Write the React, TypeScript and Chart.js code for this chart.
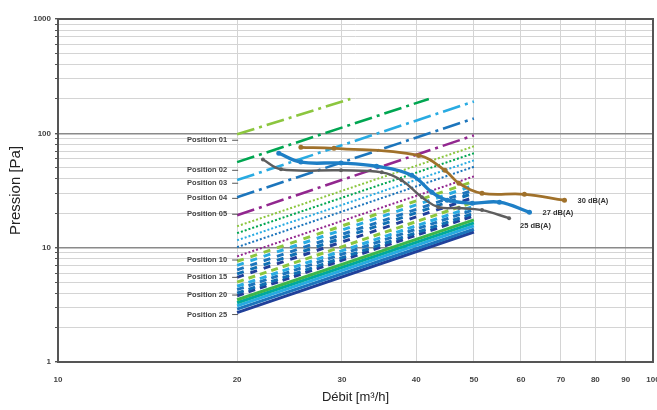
import React, { useEffect, useRef } from "react";
import { Chart, registerables } from "chart.js";

Chart.register(...registerables);

// ---- Data ----
const xTickValues = [10, 20, 30, 40, 50, 60, 70, 80, 90, 100];
const yGridValues = [1, 2, 3, 4, 5, 6, 7, 8, 9, 10, 20, 30, 40, 50, 60, 70, 80, 90, 100, 200, 300, 400, 500, 600, 700, 800, 900, 1000];
const yTickLabels = [1, 10, 100, 1000];

const positionNames = ["01", "02", "03", "04", "05", "06", "07", "08", "09", "10", "11", "12", "13", "14", "15", "16", "17", "18", "19", "20", "21", "22", "23", "24", "25"];
const positionStartFlow = [20, 20, 20, 20, 20, 20, 20, 20, 20, 20, 20, 20, 20, 20, 20, 20, 20, 20, 20, 20, 20, 20, 20, 20, 20];
const positionStartPa = [98, 56, 39, 27.6, 19.2, 15.4, 13.4, 11.6, 10.1, 8.4, 7.6, 7.0, 6.4, 5.9, 5.5, 5.0, 4.6, 4.3, 4.0, 3.8, 3.5, 3.3, 3.1, 2.9, 2.7];
const positionEndFlow = [31, 42, 50, 50, 50, 50, 50, 50, 50, 50, 50, 50, 50, 50, 50, 50, 50, 50, 50, 50, 50, 50, 50, 50, 50];
const positionEndPa = [200, 200, 190, 135, 96, 77, 67, 58, 51, 42, 38, 35, 32, 30, 27.5, 25, 23, 21.5, 20, 19, 17.5, 16.5, 15.5, 14.5, 13.7];

const labeledPositions = ["01", "02", "03", "04", "05", "10", "15", "20", "25"];
const labeledPositionPa = [87, 47.5, 36.6, 27, 19.6, 7.8, 5.5, 3.85, 2.6];

const db30Flow = [25.6, 29.1, 40.4, 44.7, 47.2, 51.6, 60.8, 71];
const db30Pa = [75.5, 74, 64, 47.5, 36.6, 29.9, 29.3, 26];
const db27Flow = [23.5, 25.6, 29.9, 34.3, 39.3, 42.5, 45.1, 49.7, 55.2, 62];
const db27Pa = [67, 56, 55, 51.5, 43, 30.5, 26, 24.5, 25, 20.4];
const db25Flow = [22.1, 23.7, 29.9, 35, 37.8, 40.9, 43.6, 47.2, 51.6, 57.3];
const db25Pa = [59, 48.5, 47.5, 45.6, 38.9, 27.6, 22.6, 22.2, 21.3, 18.1];
const dbLabels = ["30 dB(A)", "27 dB(A)", "25 dB(A)"];

// ---- Styles ----
const cycleColors = ["#8cc63f", "#00a651", "#29abe2", "#1c75bc", "#92278f"];
const blockColors = ["#8cc63f", "#29abe2", "#1c75bc", "#0f6fb3", "#21409a"];
const solidColors = ["#3cb64a", "#00a99d", "#27aae1", "#1c75bc", "#21409a"];
const FONT = "'Liberation Sans', Arial, sans-serif";

function positionStyle(i: number) {
  if (i < 5) return { color: cycleColors[i], dash: [18, 5, 3, 5], width: 2.6 };
  if (i < 10) return { color: cycleColors[i - 5], dash: [2, 2], width: 2 };
  if (i < 15) return { color: blockColors[i - 10], dash: [7, 7], width: 3 };
  if (i < 20) return { color: blockColors[i - 15], dash: [7, 5], width: 3 };
  return { color: solidColors[i - 20], dash: [], width: 3 };
}

const labelsPlugin = {
  id: "customLabels",
  afterDatasetsDraw(chart: any) {
    const { ctx, scales, chartArea } = chart;
    const xs = scales.x;
    const ys = scales.y;
    ctx.save();
    ctx.font = `bold 7.5px ${FONT}`;
    ctx.fillStyle = "#444";
    ctx.textAlign = "right";
    ctx.textBaseline = "middle";
    const x20 = xs.getPixelForValue(20);
    labeledPositions.forEach((name, k) => {
      const y = ys.getPixelForValue(labeledPositionPa[k]);
      ctx.fillText("Position " + name, x20 - 10, y);
      ctx.strokeStyle = "#555";
      ctx.lineWidth = 1;
      ctx.beginPath();
      ctx.moveTo(x20 - 5, y);
      ctx.lineTo(x20 + 1, y);
      ctx.stroke();
    });
    ctx.textAlign = "left";
    ctx.fillStyle = "#333";
    const ends = [
      [db30Flow[db30Flow.length - 1], db30Pa[db30Pa.length - 1], 13, 1],
      [db27Flow[db27Flow.length - 1], db27Pa[db27Pa.length - 1], 13, 1],
      [db25Flow[db25Flow.length - 1], db25Pa[db25Pa.length - 1], 11, 8],
    ];
    ends.forEach((e, k) => {
      ctx.fillText(dbLabels[k], xs.getPixelForValue(e[0]) + e[2], ys.getPixelForValue(e[1]) + e[3]);
    });
    ctx.strokeStyle = "#555";
    ctx.lineWidth = 2;
    ctx.strokeRect(chartArea.left, chartArea.top, chartArea.right - chartArea.left, chartArea.bottom - chartArea.top);
    ctx.restore();
  },
};

export default function App() {
  const ref = useRef<HTMLCanvasElement | null>(null);
  useEffect(() => {
    if (!ref.current) return;
    const curveDatasets = [
      { label: dbLabels[0], flow: db30Flow, pa: db30Pa, color: "#a0712b", width: 2.8, radius: 2.5 },
      { label: dbLabels[1], flow: db27Flow, pa: db27Pa, color: "#1e7fc6", width: 3.4, radius: 2.5 },
      { label: dbLabels[2], flow: db25Flow, pa: db25Pa, color: "#5e5e5e", width: 2.4, radius: 2 },
    ].map((c) => ({
      label: c.label,
      data: c.flow.map((f, i) => ({ x: f, y: c.pa[i] })),
      borderColor: c.color,
      backgroundColor: c.color,
      borderWidth: c.width,
      pointRadius: c.radius,
      pointBorderWidth: 0,
      tension: 0.4,
      fill: false,
    }));
    const positionDatasets = positionNames.map((name, i) => {
      const st = positionStyle(i);
      return {
        label: "Position " + name,
        data: [
          { x: positionStartFlow[i], y: positionStartPa[i] },
          { x: positionEndFlow[i], y: positionEndPa[i] },
        ],
        borderColor: st.color,
        backgroundColor: st.color,
        borderWidth: st.width,
        borderDash: st.dash,
        borderCapStyle: "butt",
        pointRadius: 0,
        tension: 0,
        fill: false,
      };
    });
    const chart = new Chart(ref.current, {
      type: "line",
      data: { datasets: [...curveDatasets, ...positionDatasets] as any },
      options: {
        animation: false,
        responsive: false,
        maintainAspectRatio: false,
        layout: { padding: { top: 19, right: 4, left: 0, bottom: 0 } },
        plugins: { legend: { display: false }, tooltip: { enabled: false } },
        scales: {
          x: {
            type: "logarithmic",
            min: 10,
            max: 100,
            afterBuildTicks: (s: any) => {
              s.ticks = xTickValues.map((v) => ({ value: v }));
            },
            afterFit: (s: any) => {
              s.height = 48;
              s.paddingLeft = 0;
              s.paddingRight = 0;
            },
            ticks: {
              autoSkip: false,
              maxRotation: 0,
              padding: 13,
              color: "#444",
              font: { family: FONT, size: 8, weight: "bold" },
              callback: (v: any) => String(v),
            },
            grid: { color: "#d4d4d4", lineWidth: 1, drawTicks: false },
            border: { display: false },
            title: {
              display: true,
              text: "Débit [m³/h]",
              color: "#222",
              font: { family: FONT, size: 13 },
              padding: { top: 0, bottom: 5 },
            },
          },
          y: {
            type: "logarithmic",
            min: 1,
            max: 1000,
            afterBuildTicks: (s: any) => {
              s.ticks = yGridValues.map((v) => ({ value: v }));
            },
            afterFit: (s: any) => {
              s.width = 58;
              s.paddingTop = 0;
              s.paddingBottom = 0;
            },
            ticks: {
              autoSkip: false,
              padding: 4,
              color: "#444",
              font: { family: FONT, size: 8, weight: "bold" },
              callback: (v: any) => (yTickLabels.includes(Number(v)) ? String(v) : ""),
            },
            grid: {
              color: (c: any) => (c.tick && yTickLabels.includes(c.tick.value) ? "#8a8a8a" : "#d4d4d4"),
              lineWidth: (c: any) => (c.tick && yTickLabels.includes(c.tick.value) ? 1.4 : 1),
              tickLength: 3,
              tickColor: "#555",
            },
            border: { display: false },
            title: {
              display: true,
              text: "Pression [Pa]",
              color: "#222",
              font: { family: FONT, size: 15 },
              padding: { top: 7, bottom: 0 },
            },
          },
        },
      },
      plugins: [labelsPlugin],
    } as any);
    return () => chart.destroy();
  }, []);
  return (
    <div style={{ position: "fixed", left: 0, top: 0, width: 657, height: 410, background: "#fff" }}>
      <canvas ref={ref} width={657} height={410} style={{ width: 657, height: 410 }} />
    </div>
  );
}
